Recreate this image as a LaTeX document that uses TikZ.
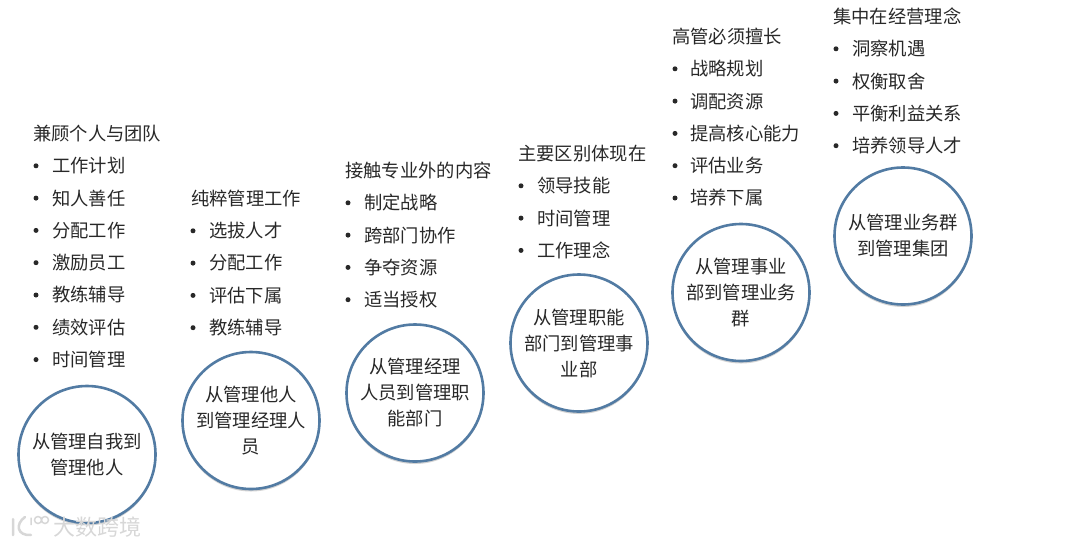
\documentclass[tikz,border=0pt]{standalone}
\usepackage{xcolor}
\usepackage{fontspec}
\setmainfont{Noto Sans CJK SC}
\usetikzlibrary{shadows}
\definecolor{RimBlue}{RGB}{82,123,163}
\definecolor{InkGray}{RGB}{40,40,40}
\definecolor{MarkGray}{RGB}{215,215,215}
\begin{document}
\begin{tikzpicture}[
    x=1pt, y=-1pt,
    stage/.style={circle, draw=RimBlue, line width=2.6pt, fill=white, minimum size=137pt,
                  inner sep=0pt, align=center, text=InkGray, font=\fontsize{18.3}{26}\selectfont,
                  drop shadow={shadow xshift=0pt, shadow yshift=-2.5pt, opacity=0.35}},
    head/.style={anchor=west, inner sep=0pt, text=InkGray, font=\fontsize{18.3}{22}\selectfont},
    item/.style={head},
    dot/.style={circle, fill=InkGray, minimum size=5pt, inner sep=0pt},
    wmark/.style={anchor=west, inner sep=0pt, text=MarkGray, font=\fontsize{22}{24}\selectfont}
  ]
  \useasboundingbox (0,0) rectangle (1080,547);

  % Stages, bottom left to top right
  \node[stage] (s1) at (87,  454.5) {从管理自我到\\管理他人};
  \node[stage] (s2) at (251, 420.5) {从管理他人\\到管理经理人\\员};
  \node[stage] (s3) at (415, 393) {从管理经理\\人员到管理职\\能部门};
  \node[stage] (s4) at (579, 343) {从管理职能\\部门到管理事\\业部};
  \node[stage] (s5) at (741, 292.5) {从管理事业\\部到管理业务\\群};
  \node[stage] (s6) at (903, 236) {从管理业务群\\到管理集团};

  % Headings
  \node[head] (h1) at (33,  133.5) {兼顾个人与团队};
  \node[head] (h2) at (191, 198.5) {纯粹管理工作};
  \node[head] (h3) at (345, 170.5) {接触专业外的内容};
  \node[head] (h4) at (518, 153.5) {主要区别体现在};
  \node[head] (h5) at (672, 36.5)  {高管必须擅长};
  \node[head] (h6) at (833, 16.5)  {集中在经营理念};

  % Lists
  \foreach \t [count=\i] in {工作计划, 知人善任, 分配工作, 激励员工, 教练辅导, 绩效评估, 时间管理} {
    \node[dot] (d1\i) at (36, 133.5+\i*32.3) {};
    \node[item] (a1\i) at (52, 133.5+\i*32.3) {\t};
  }
  \foreach \t [count=\i] in {选拔人才, 分配工作, 评估下属, 教练辅导} {
    \node[dot] (d2\i) at (193, 198.5+\i*32.3) {};
    \node[item] (a2\i) at (209, 198.5+\i*32.3) {\t};
  }
  \foreach \t [count=\i] in {制定战略, 跨部门协作, 争夺资源, 适当授权} {
    \node[dot] (d3\i) at (348, 170.5+\i*32.3) {};
    \node[item] (a3\i) at (364, 170.5+\i*32.3) {\t};
  }
  \foreach \t [count=\i] in {领导技能, 时间管理, 工作理念} {
    \node[dot] (d4\i) at (521, 153.5+\i*32.3) {};
    \node[item] (a4\i) at (537, 153.5+\i*32.3) {\t};
  }
  \foreach \t [count=\i] in {战略规划, 调配资源, 提高核心能力, 评估业务, 培养下属} {
    \node[dot] (d5\i) at (675, 36.5+\i*32.3) {};
    \node[item] (a5\i) at (690, 36.5+\i*32.3) {\t};
  }
  \foreach \t [count=\i] in {洞察机遇, 权衡取舍, 平衡利益关系, 培养领导人才} {
    \node[dot] (d6\i) at (836, 16.5+\i*32.3) {};
    \node[item] (a6\i) at (852, 16.5+\i*32.3) {\t};
  }

  % Watermark
  \draw[MarkGray, line width=2.5pt, line cap=round] (13,519) -- (13,535) (25,517) .. controls (15,524) and (17,536) .. (31,535);
  \draw[MarkGray, line width=1.5pt] (31,517.5) -- (31,525) (38,520) circle (3.5pt) (45,520) circle (3.5pt);
  \node[wmark] (wm) at (53, 527) {大数跨境};
\end{tikzpicture}
\end{document}
